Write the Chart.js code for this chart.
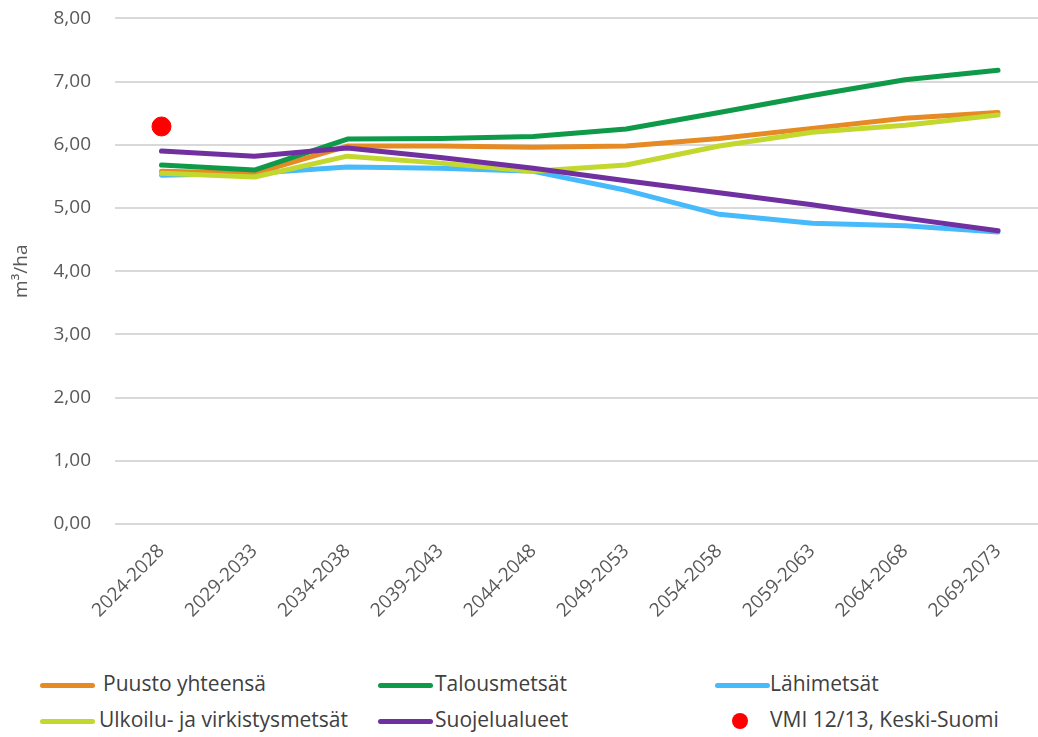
<!DOCTYPE html>
<html>
<head>
<meta charset="utf-8">
<script src="https://cdn.jsdelivr.net/npm/chart.js@4/dist/chart.umd.min.js"></script>
<style>
  html, body { margin: 0; padding: 0; background: #fff; overflow: hidden; width: 1038px; height: 737px; }
  #wrap { position: absolute; left: 0; top: -17px; width: 1055px; height: 672px; }
  .lg { position: absolute; font-family: "Open Sans", "Lato", sans-serif; font-size: 21px; color: #404040; white-space: nowrap; line-height: 1; }
  .ln { position: absolute; height: 5px; border-radius: 3px; }
  .dot { position: absolute; width: 16px; height: 16px; border-radius: 50%; background: #FF0000; }
</style>
</head>
<body>
<div id="wrap"><canvas id="c"></canvas></div>
<div id="legend"></div>
<script>
const categories = ["2024-2028","2029-2033","2034-2038","2039-2043","2044-2048","2049-2053","2054-2058","2059-2063","2064-2068","2069-2073"];
const puustoYhteensa = [5.58, 5.55, 5.98, 5.98, 5.96, 5.98, 6.10, 6.26, 6.42, 6.51];
const talousmetsat   = [5.68, 5.60, 6.09, 6.10, 6.13, 6.25, 6.51, 6.78, 7.03, 7.18];
const lahimetsat     = [5.52, 5.55, 5.65, 5.63, 5.58, 5.28, 4.90, 4.76, 4.72, 4.62];
const ulkoilu        = [5.55, 5.49, 5.82, 5.71, 5.58, 5.68, 5.98, 6.20, 6.31, 6.47];
const suojelualueet  = [5.90, 5.82, 5.95, 5.80, 5.63, 5.43, 5.24, 5.05, 4.84, 4.64];
const vmi            = [6.29, null, null, null, null, null, null, null, null, null];
const yTicks = [0, 1, 2, 3, 4, 5, 6, 7, 8];

const seriesNames = ["Puusto yhteensä","Talousmetsät","Lähimetsät","Ulkoilu- ja virkistysmetsät","Suojelualueet","VMI 12/13, Keski-Suomi"];
const colors = ["#E68A23","#0E9A48","#47BAFC","#C2D82E","#7030A0","#FF0000"];

function lineDs(label, data, color, order) {
  return { label, data, borderColor: color, backgroundColor: color, borderWidth: 5,
    pointRadius: 0, pointHoverRadius: 0, tension: 0, borderCapStyle: 'round', borderJoinStyle: 'round', order };
}

const tickFont = { family: '"Open Sans", "Lato", sans-serif', size: 19 };

new Chart(document.getElementById('c'), {
  type: 'line',
  data: {
    labels: categories,
    datasets: [
      lineDs(seriesNames[0], puustoYhteensa, colors[0], 4),
      lineDs(seriesNames[1], talousmetsat, colors[1], 3),
      lineDs(seriesNames[2], lahimetsat, colors[2], 5),
      lineDs(seriesNames[3], ulkoilu, colors[3], 2),
      lineDs(seriesNames[4], suojelualueet, colors[4], 1),
      { label: seriesNames[5], data: vmi, showLine: false, pointRadius: 9.5, pointHoverRadius: 9.5,
        pointBackgroundColor: colors[5], pointBorderColor: colors[5], backgroundColor: colors[5], borderColor: colors[5], order: 0 }
    ]
  },
  options: {
    responsive: true, maintainAspectRatio: false, animation: false,
    layout: { padding: { top: 3, right: 0, left: 0, bottom: 0 } },
    plugins: { legend: { display: false }, tooltip: { enabled: false } },
    scales: {
      x: {
        offset: true,
        grid: { display: false },
        border: { display: false },
        ticks: { color: '#595959', font: tickFont, minRotation: 45, maxRotation: 45, padding: 8, autoSkip: false },
        afterFit: (s) => { s.height = 131; }
      },
      y: {
        min: 0, max: 8,
        afterBuildTicks: (s) => { s.ticks = yTicks.map(v => ({ value: v })); },
        grid: { color: '#D9D9D9', lineWidth: 2, drawTicks: false },
        border: { display: false },
        ticks: { color: '#595959', font: tickFont, padding: 24,
          callback: (v) => Number(v).toFixed(2).replace('.', ',') },
        title: { display: true, text: 'm³/ha', color: '#595959', font: { family: '"Open Sans", "Lato", sans-serif', size: 19 }, padding: { top: 10, bottom: 0 } },
        afterFit: (s) => { s.width = 115; }
      }
    }
  }
});

// legend
const legendItems = [
  { i: 0, x: 40, y: 685, tx: 103 },
  { i: 1, x: 378, y: 685, tx: 435 },
  { i: 2, x: 715, y: 685, tx: 770 },
  { i: 3, x: 40, y: 721, tx: 99 },
  { i: 4, x: 378, y: 721, tx: 435 },
  { i: 5, x: 732, y: 721, tx: 770, dot: true }
];
const lg = document.getElementById('legend');
legendItems.forEach(it => {
  if (it.dot) {
    const d = document.createElement('div'); d.className = 'dot';
    d.style.left = it.x + 'px'; d.style.top = (it.y - 8) + 'px';
    lg.appendChild(d);
  } else {
    const l = document.createElement('div'); l.className = 'ln';
    l.style.left = it.x + 'px'; l.style.top = (it.y - 2) + 'px'; l.style.width = '55px';
    l.style.background = colors[it.i];
    lg.appendChild(l);
  }
  const t = document.createElement('div'); t.className = 'lg';
  t.textContent = seriesNames[it.i];
  t.style.left = it.tx + 'px'; t.style.top = (it.y - 12) + 'px';
  lg.appendChild(t);
});
</script>
</body>
</html>
